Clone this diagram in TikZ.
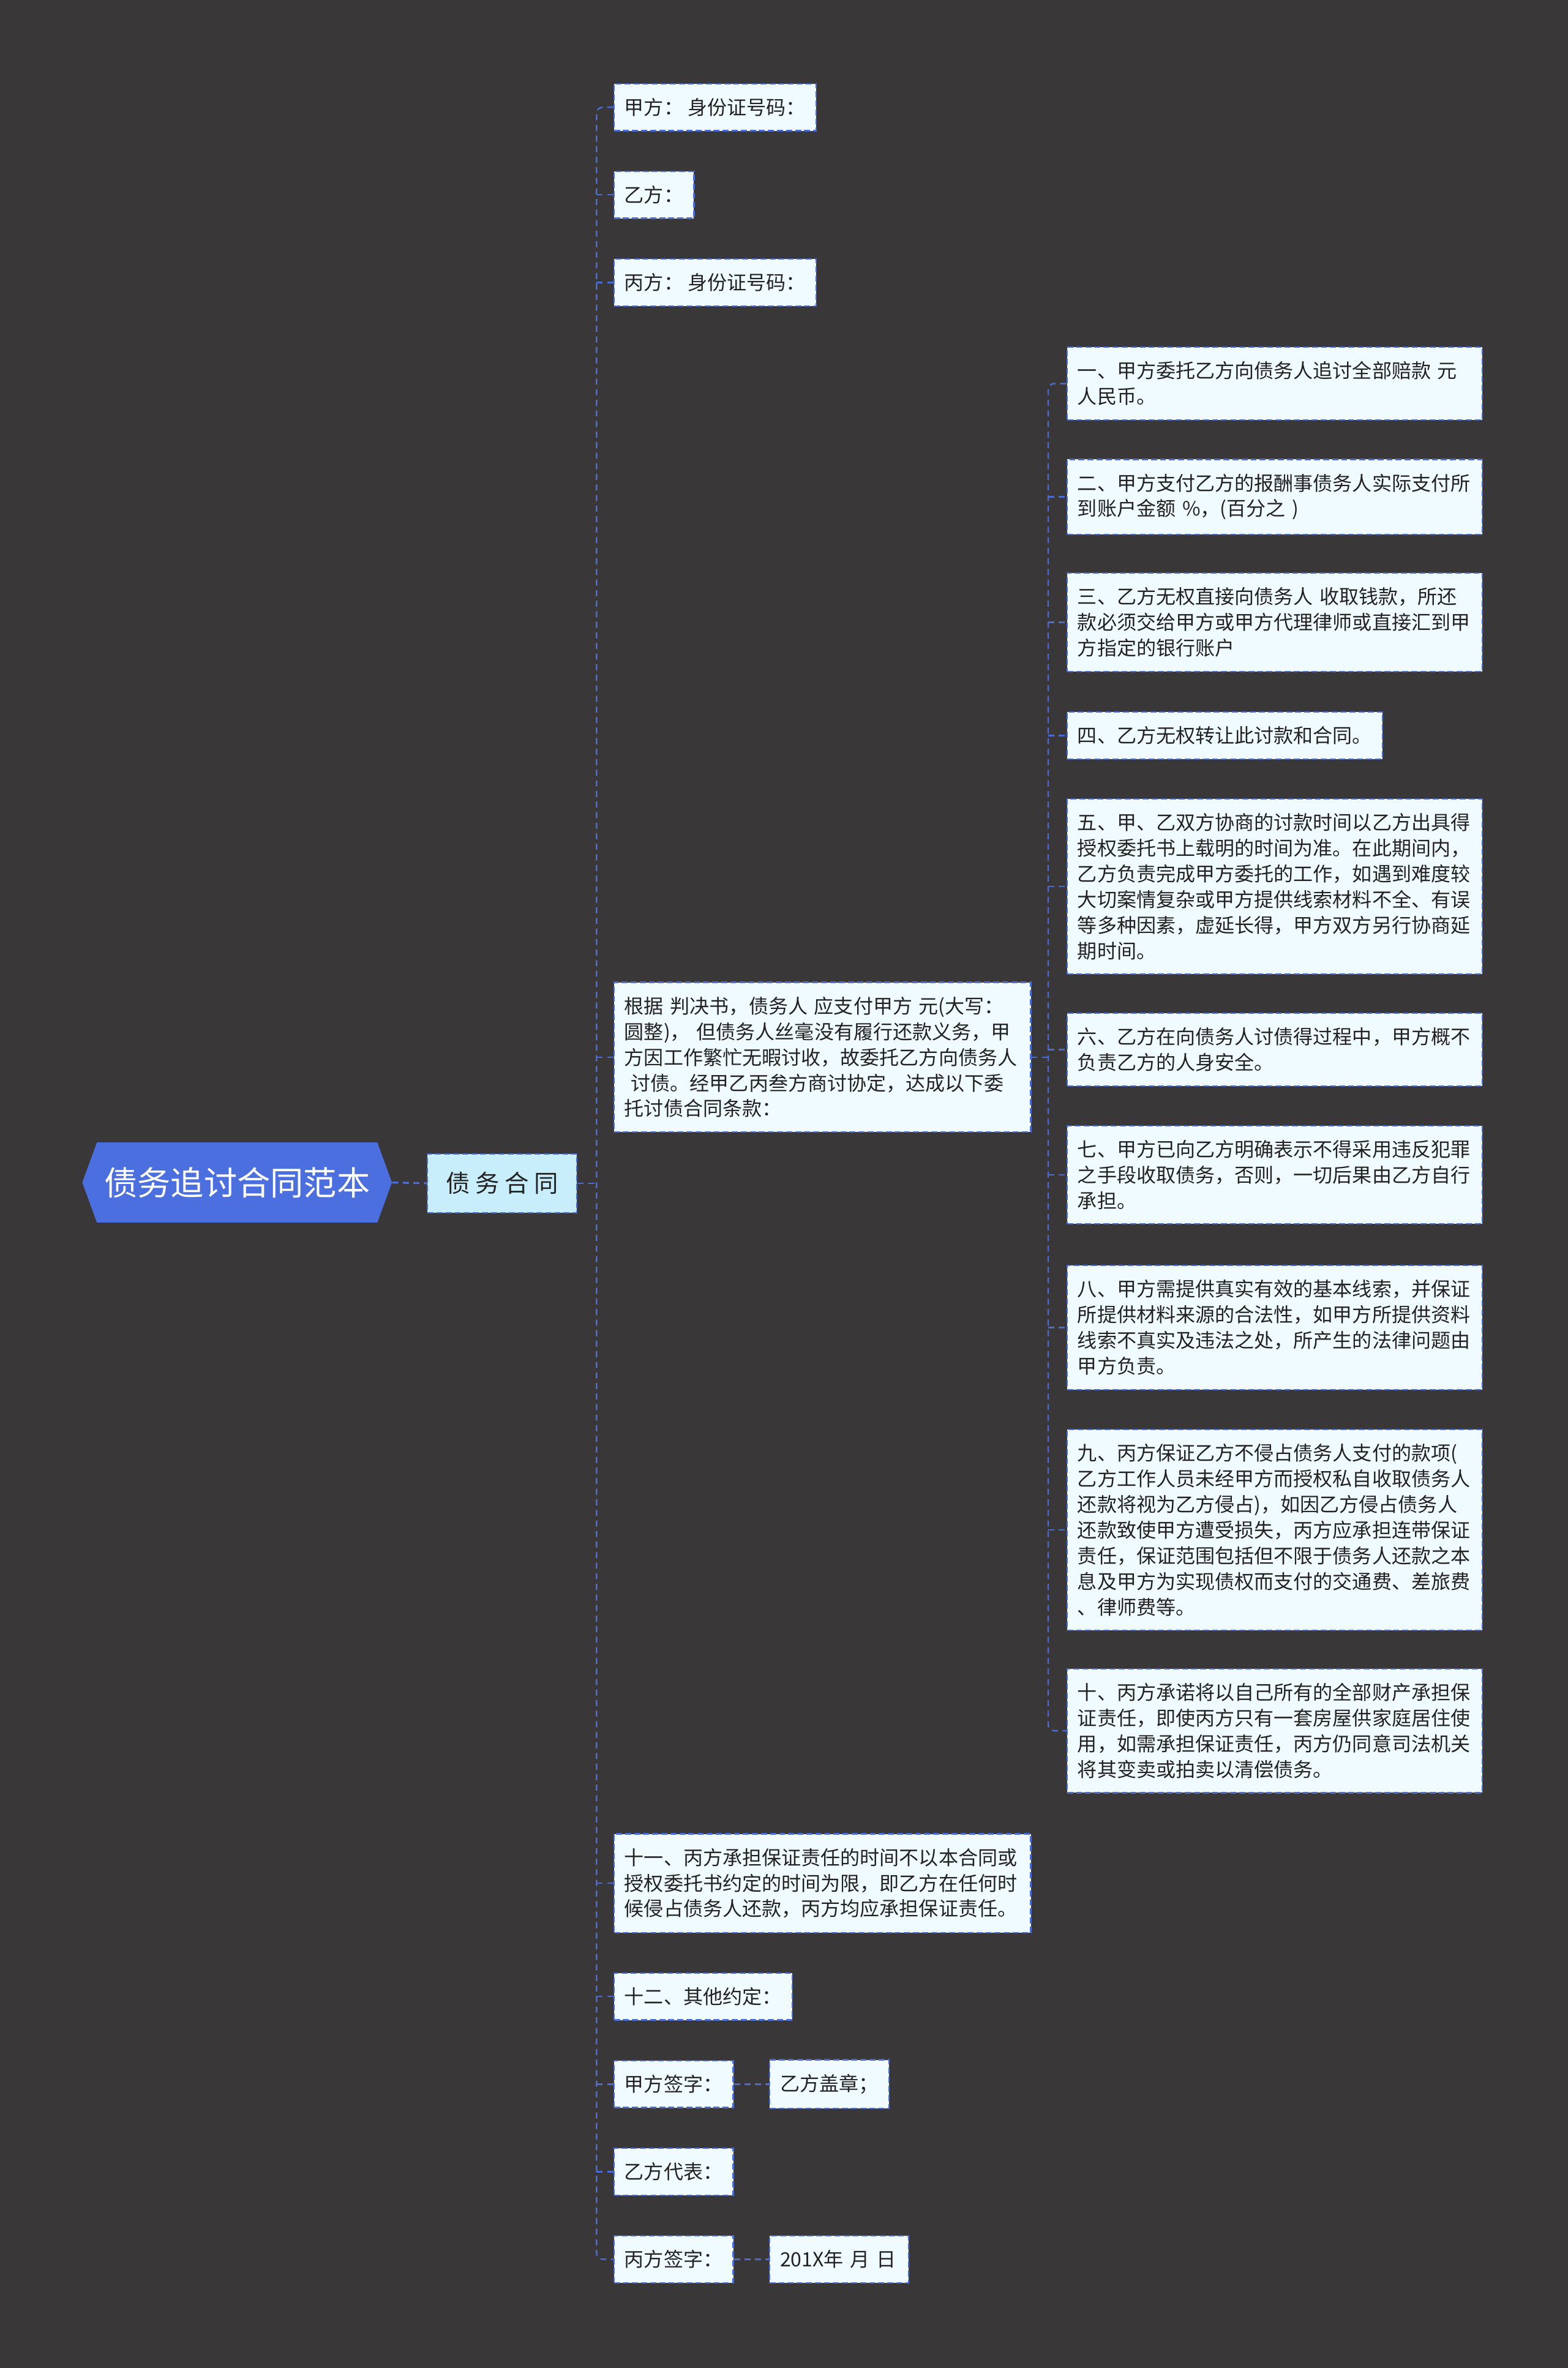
\documentclass[tikz,border=0pt]{standalone}
\usepackage{fontspec}
\setmainfont{Noto Sans CJK SC}
\usetikzlibrary{shapes.symbols}

\definecolor{bgdark}{HTML}{393738}
\definecolor{lineblue}{HTML}{4A6CD4}
\definecolor{rootblue}{HTML}{4C6FE0}
\definecolor{leaffill}{HTML}{F0FBFF}
\definecolor{mainfill}{HTML}{C8EEFB}
\definecolor{inktext}{HTML}{222222}

\tikzset{
  rootbox/.style={shape=signal, signal to=west and east, signal pointer angle=140,
    fill=rootblue, text=white, minimum width=205pt, minimum height=53pt,
    font=\fontsize{22pt}{26pt}\selectfont},
  mainbox/.style={draw=lineblue, dash pattern=on 4pt off 2pt, line width=0.9pt,
    fill=mainfill, text=inktext, minimum width=99pt, minimum height=39pt,
    font=\fontsize{16pt}{20pt}\selectfont},
  leaf/.style={draw=lineblue, dash pattern=on 4pt off 2pt, line width=0.9pt,
    fill=leaffill, text=inktext, anchor=west, align=left,
    inner xsep=7pt, inner ysep=9.5pt,
    font=\fontsize{13pt}{17pt}\selectfont},
  wideleaf/.style={leaf, text width=261pt},
  link/.style={draw=lineblue, dash pattern=on 4pt off 3pt, line width=1pt}
}

\begin{document}
\begin{tikzpicture}[x=1pt,y=-1pt]
\fill[bgdark] (0,0) rectangle (1038,1568);
\useasboundingbox (0,0) rectangle (1038,1568);

\node[rootbox] (root) at (157,783) {债务追讨合同范本};
\node[mainbox] (main) at (332.5,783.5) {债 务 合 同};

% second column
\node[leaf] (jia) at (406,71) {甲方： 身份证号码：};
\node[leaf] (yi) at (406,129) {乙方：};
\node[leaf] (bing) at (406,187) {丙方： 身份证号码：};
\node[wideleaf, text width=262pt] (basis) at (406,700) {根据 判决书，债务人 应支付甲方 元(大写：\\
圆整)， 但债务人丝毫没有履行还款义务，甲\\
方因工作繁忙无暇讨收，故委托乙方向债务人\\
\ 讨债。经甲乙丙叁方商讨协定，达成以下委\\
托讨债合同条款：};
\node[wideleaf, text width=262pt] (t11) at (406,1247) {十一、丙方承担保证责任的时间不以本合同或\\
授权委托书约定的时间为限，即乙方在任何时\\
候侵占债务人还款，丙方均应承担保证责任。};
\node[leaf] (t12) at (406,1322) {十二、其他约定：};
\node[leaf] (jiasign) at (406,1380) {甲方签字：};
\node[leaf] (yirep) at (406,1438) {乙方代表：};
\node[leaf] (bingsign) at (406,1496) {丙方签字：};
\node[leaf] (yiseal) at (509,1380) {乙方盖章；};
\node[leaf, text width=78pt] (date) at (509,1496) {201X年 月 日};

% third column
\node[wideleaf] (c1) at (706,254) {一、甲方委托乙方向债务人追讨全部赔款 元\\
人民币。};
\node[wideleaf] (c2) at (706,329) {二、甲方支付乙方的报酬事债务人实际支付所\\
到账户金额 \%，(百分之 )};
\node[wideleaf] (c3) at (706,412) {三、乙方无权直接向债务人 收取钱款，所还\\
款必须交给甲方或甲方代理律师或直接汇到甲\\
方指定的银行账户};
\node[leaf] (c4) at (706,487) {四、乙方无权转让此讨款和合同。};
\node[wideleaf] (c5) at (706,587) {五、甲、乙双方协商的讨款时间以乙方出具得\\
授权委托书上载明的时间为准。在此期间内，\\
乙方负责完成甲方委托的工作，如遇到难度较\\
大切案情复杂或甲方提供线索材料不全、有误\\
等多种因素，虚延长得，甲方双方另行协商延\\
期时间。};
\node[wideleaf] (c6) at (706,695) {六、乙方在向债务人讨债得过程中，甲方概不\\
负责乙方的人身安全。};
\node[wideleaf] (c7) at (706,778) {七、甲方已向乙方明确表示不得采用违反犯罪\\
之手段收取债务，否则，一切后果由乙方自行\\
承担。};
\node[wideleaf] (c8) at (706,879) {八、甲方需提供真实有效的基本线索，并保证\\
所提供材料来源的合法性，如甲方所提供资料\\
线索不真实及违法之处，所产生的法律问题由\\
甲方负责。};
\node[wideleaf] (c9) at (706,1013) {九、丙方保证乙方不侵占债务人支付的款项(\\
乙方工作人员未经甲方而授权私自收取债务人\\
还款将视为乙方侵占)，如因乙方侵占债务人\\
还款致使甲方遭受损失，丙方应承担连带保证\\
责任，保证范围包括但不限于债务人还款之本\\
息及甲方为实现债权而支付的交通费、差旅费\\
、律师费等。};
\node[wideleaf] (c10) at (706,1146) {十、丙方承诺将以自己所有的全部财产承担保\\
证责任，即使丙方只有一套房屋供家庭居住使\\
用，如需承担保证责任，丙方仍同意司法机关\\
将其变卖或拍卖以清偿债务。};

\coordinate (trunk) at (395,0);
\coordinate (branch) at (694,0);

% links
\draw[link, line width=1.4pt] (root.east) -- (main.west);
\draw[link] (main.east) -- (trunk |- main.east);
\draw[link, rounded corners=4pt] (jia.west) -- (trunk |- jia.west) -- (trunk |- bingsign.west) -- (bingsign.west);
\foreach \n in {yi,bing,basis,t11,t12,jiasign,yirep}{
    \draw[link] (trunk |- \n.west) -- (\n.west);
}
\draw[link] (jiasign.east) -- (yiseal.west);
\draw[link] (bingsign.east) -- (date.west);

\draw[link] (basis.east) -- (branch |- basis.east);
\draw[link, rounded corners=4pt] (c1.west) -- (branch |- c1.west) -- (branch |- c10.west) -- (c10.west);
\foreach \n in {c2,c3,c4,c5,c6,c7,c8,c9}{
    \draw[link] (branch |- \n.west) -- (\n.west);
}
\end{tikzpicture}
\end{document}
